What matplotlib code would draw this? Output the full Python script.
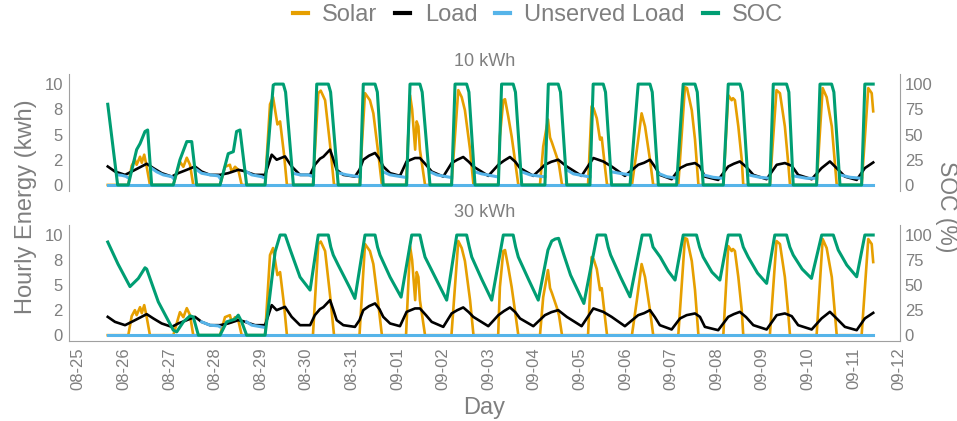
import matplotlib
matplotlib.use('Agg')
import matplotlib.pyplot as plt
from matplotlib.lines import Line2D
import numpy as np

plt.rcParams['font.family'] = ['Liberation Sans', 'DejaVu Sans']

nan = float('nan')

# time axis: hours since 08-25 00:00
day_labels = ['08-25', '08-26', '08-27', '08-28', '08-29', '08-30', '08-31',
              '09-01', '09-02', '09-03', '09-04', '09-05', '09-06', '09-07',
              '09-08', '09-09', '09-10', '09-11', '09-12']
t_start, t_end = 15.5, 418.4

solar_t = [15.5, 26.3, 28.1, 29.8, 30.7, 32.5, 33.4, 34.7, 36.0, 37.7,
           50.0, 53.5, 55.3, 57.1, 58.8, 60.5,
           74.6, 77.2, 79.8, 80.7, 82.5, 84.2, 86.0,
           98.3, 100.9, 102.5, 104.8, 106.2, 108.3, 109.8,
           123.5, 126.3, 127.6, 129.9, 132.5, 134.6,
           148.0, 150.9, 153.5, 155.3, 157.9, 159.8,
           172.5, 174.6, 175.7, 177.3, 178.1, 179.0, 179.8, 182.5,
           196.4, 200.0, 201.8, 203.5, 206.2, 208.0,
           221.0, 221.9, 223.7, 224.6, 226.3, 228.1, 229.8, 231.6,
           243.0, 244.7, 247.2, 248.3, 249.3, 251.8, 253.0, 254.6,
           268.3, 270.2, 271.2, 272.9, 274.6, 275.5, 277.2, 278.3,
           291.4, 294.0, 296.5, 298.3, 300.9, 302.6,
           315.8, 319.3, 320.4, 322.9, 324.6, 326.4,
           339.5, 342.1, 343.9, 344.6, 345.6, 347.4, 349.2, 350.0,
           364.0, 367.5, 369.3, 371.9, 373.7, 374.6,
           388.6, 391.8, 393.9, 396.6, 399.2,
           412.3, 415.8, 417.6, 418.4]
solar_v = [0, 0, 1.9, 2.5, 2.0, 2.8, 2.2, 3.0, 1.8, 0,
           0, 2.3, 1.8, 2.7, 2.0, 0,
           0, 1.8, 2.0, 1.3, 1.8, 1.5, 0,
           0, 8.0, 8.7, 6.0, 6.3, 3.0, 0,
           0, 9.1, 9.35, 8.4, 4.0, 0,
           0, 9.1, 8.4, 7.1, 3.1, 0,
           0, 8.9, 7.5, 3.5, 6.3, 5.8, 3.5, 0,
           0, 9.4, 8.7, 7.4, 3.5, 0,
           0, 4.8, 8.4, 8.5, 6.8, 4.8, 2.5, 0,
           0, 3.8, 6.5, 4.7, 4.2, 2.8, 2.0, 0,
           0, 7.8, 7.6, 6.6, 4.5, 4.7, 1.8, 0,
           0, 3.5, 7.1, 5.8, 2.5, 0,
           0, 9.7, 9.6, 7.4, 4.5, 0,
           0, 8.9, 8.4, 8.6, 8.4, 5.8, 2.5, 0,
           0, 9.4, 9.1, 5.8, 2.1, 0,
           0, 9.6, 8.7, 5.8, 0,
           0, 9.6, 9.1, 7.3]

load_t = [15.5, 19.3, 24.6, 28.1, 31.6, 36.0, 39.5, 43.9, 49.2, 52.6,
          57.1, 61.4, 64.9, 69.3, 74.6, 78.9, 84.2, 86.7, 93.0, 98.3,
          101.8, 104.4, 108.8, 112.3, 116.7, 122.0, 124.5, 127.2, 129.0, 132.5,
          134.3, 136.0, 139.5, 145.6, 148.0, 150.0, 153.0, 156.2, 158.5, 160.5,
          164.1, 169.3, 172.8, 177.2, 179.8, 183.0, 186.0, 192.1, 196.5, 199.5,
          202.6, 205.5, 207.9, 215.8, 221.1, 224.0, 227.2, 230.0, 232.5, 239.5,
          245.6, 249.0, 252.6, 257.1, 264.9, 271.1, 276.3, 280.7, 287.7, 294.7,
          297.8, 300.9, 303.5, 306.1, 312.3, 316.7, 320.2, 324.6, 327.2, 329.8,
          336.8, 342.1, 345.0, 348.2, 351.5, 355.3, 362.3, 367.6, 371.9, 375.5,
          378.9, 386.0, 391.2, 395.6, 399.5, 403.5, 409.7, 414.0, 418.4]
load_v = [1.83, 1.33, 1.0, 1.33, 1.67, 2.1, 1.67, 1.17, 0.83, 1.17,
          1.5, 1.83, 1.33, 1.0, 1.0, 1.17, 1.5, 1.4, 1.0, 1.0,
          3.0, 2.5, 2.83, 1.83, 1.0, 1.0, 2.0, 2.6, 2.8, 3.5,
          2.5, 1.5, 1.0, 0.83, 1.5, 2.5, 2.9, 3.17, 2.6, 1.83,
          1.17, 0.9, 2.33, 2.67, 2.67, 2.0, 1.33, 0.83, 2.17, 2.5,
          2.77, 2.3, 1.83, 0.9, 2.0, 2.4, 2.77, 2.3, 1.67, 0.9,
          2.0, 2.3, 2.5, 1.83, 0.9, 2.67, 2.33, 1.83, 0.9, 2.0,
          2.2, 2.5, 1.8, 1.0, 0.57, 1.67, 2.0, 2.17, 1.83, 0.83,
          0.5, 1.83, 2.1, 2.33, 1.8, 1.0, 0.57, 2.0, 2.17, 1.9,
          1.0, 0.57, 1.67, 2.33, 1.6, 0.83, 0.5, 1.67, 2.23]

# state of charge (%) - 10 kWh battery
soc10_t = [15.5, 20.7, 26.3, 30.7, 32.5, 35.1, 36.5, 38.6,
           50.0, 53.5, 57.1, 59.7, 62.3,
           74.6, 78.9, 81.6, 83.3, 85.1, 88.6,
           98.3, 102.6, 103.5, 107.9, 109.1, 113.2,
           123.7, 125.5, 131.6, 132.8, 136.8,
           148.3, 150.0, 156.2, 157.4, 160.5,
           172.8, 174.6, 179.8, 181.0, 185.1,
           196.5, 198.3, 204.4, 205.6, 208.8,
           221.1, 222.8, 228.9, 230.1, 233.4,
           245.6, 247.4, 252.6, 253.8, 257.1,
           269.3, 271.0, 276.3, 277.5, 280.7,
           290.4, 294.7, 300.9, 302.1, 305.3,
           314.9, 318.4, 324.6, 325.8, 328.9,
           339.5, 342.1, 348.3, 349.5, 352.6,
           364.0, 365.8, 372.8, 374.0, 376.3,
           388.6, 390.4, 396.5, 397.7, 400.9,
           412.3, 414.0, 418.4]
soc10_v = [80, 0, 0, 35, 41, 53, 54.5, 0,
           0, 25, 43, 43, 0,
           0, 31, 33, 53, 54.5, 0,
           0, 99, 100, 100, 92, 0,
           0, 100, 100, 92, 0,
           0, 100, 100, 92, 0,
           0, 100, 100, 92, 0,
           0, 100, 100, 92, 0,
           0, 100, 100, 92, 0,
           0, 100, 100, 92, 0,
           0, 100, 100, 92, 0,
           0, 100, 100, 92, 0,
           0, 100, 100, 92, 0,
           0, 100, 100, 92, 0,
           0, 100, 100, 92, 0,
           0, 100, 100, 92, 0,
           0, 100, 100]

# state of charge (%) - 30 kWh battery
soc30_t = [15.5, 20.9, 27.2, 31.6, 35.1, 36.0, 42.1, 50.0, 51.8,
           55.3, 58.8, 60.5, 63.2, 74.6, 78.1, 82.5, 84.2, 86.0, 88.6,
           98.3, 103.6, 106.2, 108.9, 111.6, 116.7, 122.0,
           126.3, 131.6, 132.9, 134.2, 136.8, 139.5, 143.0, 145.6,
           150.9, 156.2, 157.5, 158.8, 164.1, 169.9,
           175.5, 179.8, 181.2, 182.5, 187.8, 193.9,
           199.2, 204.4, 205.8, 207.1, 212.3, 217.6,
           223.7, 228.9, 230.2, 231.6, 236.9, 242.1,
           247.2, 249.2, 251.0, 252.8, 255.6, 259.1, 266.1,
           273.1, 277.5, 278.9, 280.2, 285.4, 290.4,
           296.8, 301.0, 302.5, 306.3, 310.5, 314.1,
           318.4, 325.4, 327.0, 328.9, 333.5, 337.7,
           342.1, 348.3, 350.0, 352.6, 357.5, 362.3,
           366.6, 372.8, 374.5, 376.3, 381.0, 385.9,
           391.3, 397.4, 400.0, 404.5, 409.7,
           414.0, 418.4]
soc30_v = [93, 71, 48.5, 56.7, 67.3, 66, 33.3, 5, 3.3,
           13.3, 19.3, 18.3, 0, 0, 13.3, 16, 20, 13.3, 0,
           0, 83.3, 100, 100, 85, 58, 45,
           100, 100, 88, 80, 70, 60, 47, 36.7,
           100, 100, 88, 80, 58, 38,
           100, 100, 88, 78, 58, 35,
           100, 100, 88, 78, 56, 35,
           100, 100, 88, 78, 56, 35,
           85, 94, 96, 96.7, 80, 60, 31.7,
           100, 100, 88, 80, 58, 38.3,
           100, 100, 88, 78, 64, 55,
           100, 100, 88, 78, 63, 55,
           100, 100, 88, 78, 62, 51.7,
           100, 100, 88, 80, 66, 56.7,
           100, 100, 85, 70, 58.3,
           100, 100]

# unserved load (kWh) while the battery is empty
unserved10_t = [20.7, 23.0, 25.1, 26.3, nan,
                38.6, 41.3, 44.7, 49.2, 50.0, nan,
                62.3, 64.9, 69.3, 73.7, 74.6, nan,
                88.6, 91.3, 96.5, 98.3, nan,
                113.2, 116.7, 121.1, 123.7, nan,
                136.8, 141.3, 147.4, 148.3, nan,
                160.5, 164.1, 171.9, 172.8, nan,
                185.1, 188.6, 195.6, 196.5, nan,
                208.8, 212.3, 220.2, 221.1, nan,
                233.4, 237.8, 244.8, 245.6, nan,
                257.1, 260.6, 268.5, 269.3, nan,
                280.7, 285.1, 290.4, nan,
                305.3, 309.7, 314.9, nan,
                328.9, 334.1, 339.5, nan,
                352.6, 358.7, 364.0, nan,
                376.3, 383.4, 388.6, nan,
                400.9, 406.2, 412.3]
unserved10_v = [1.0, 0.95, 0.85, 0.7, nan,
                1.65, 1.3, 1.0, 0.82, 0.66, nan,
                1.5, 1.16, 1.0, 0.9, 0.66, nan,
                1.3, 1.0, 0.82, 0.66, nan,
                1.15, 1.0, 1.0, 0.82, nan,
                1.2, 1.0, 0.82, 0.8, nan,
                1.3, 1.0, 0.76, 0.76, nan,
                1.3, 1.0, 0.76, 0.76, nan,
                1.3, 1.1, 0.82, 0.82, nan,
                1.3, 1.0, 0.82, 0.82, nan,
                1.5, 1.1, 0.82, 0.82, nan,
                1.3, 1.15, 1.0, nan,
                1.15, 0.82, 0.66, nan,
                1.0, 0.76, 0.66, nan,
                1.0, 0.76, 0.66, nan,
                0.9, 0.66, 0.66, nan,
                1.0, 0.76, 0.66]

unserved30_t = [64.9, 69.3, 73.7, 74.6, nan, 88.6, 91.3, 96.5, 98.3]
unserved30_v = [1.33, 1.0, 0.93, 0.83, nan, 1.33, 1.0, 0.83, 0.77]

C_SOLAR = '#E69F00'
C_LOAD = '#000000'
C_UNSERVED = '#56B4E9'
C_SOC = '#009E73'
GREY = '#7f7f7f'
AXIS_GREY = '#a0a0a0'

fig = plt.figure(figsize=(9.57, 4.21), dpi=100)
ax_top = fig.add_axes([69 / 957, 1 - 190.5 / 421, 831 / 957, 116.5 / 421])
ax_bot = fig.add_axes([69 / 957, 1 - 340.7 / 421, 831 / 957, 115.7 / 421])


def draw_panel(ax, soc_t, soc_v, uns_t, uns_v, title, show_x):
    ax.plot(solar_t, solar_v, color=C_SOLAR, lw=1.9, solid_joinstyle='round')
    ax.plot(load_t, load_v, color=C_LOAD, lw=1.9, solid_joinstyle='round')
    ax.plot([t_start, t_end], [0, 0], color=C_UNSERVED, lw=2.2)
    ax.plot(uns_t, uns_v, color=C_UNSERVED, lw=2.2, solid_joinstyle='round')

    ax.set_xlim(-4.9, 432.5)
    ax.set_ylim(-0.55, 11.0)
    ax.set_yticks([0, 2.5, 5, 7.5, 10])
    ax.set_yticklabels(['0', '2', '5', '8', '10'])
    ax.set_xticks(np.arange(len(day_labels)) * 24)
    ax.set_xticklabels(day_labels, rotation=90)
    ax.tick_params(length=0, labelsize=12, labelcolor=GREY, pad=4.5)
    ax.tick_params(axis='x', labelbottom=show_x, pad=5)

    for side in ['top', 'right']:
        ax.spines[side].set_visible(False)
    ax.spines['left'].set_color(AXIS_GREY)
    ax.spines['bottom'].set_color(AXIS_GREY)
    ax.spines['bottom'].set_visible(show_x)
    ax.patch.set_visible(False)

    ax2 = ax.twinx()
    ax2.plot(soc_t, soc_v, color=C_SOC, lw=2.2, solid_joinstyle='round')
    ax2.set_ylim(-5.5, 110)
    ax2.set_yticks([0, 25, 50, 75, 100])
    ax2.tick_params(length=0, labelsize=12, labelcolor=GREY, pad=3.5)
    for side in ['top', 'left', 'bottom']:
        ax2.spines[side].set_visible(False)
    ax2.spines['right'].set_color(AXIS_GREY)

    ax.set_title(title, fontsize=13, color=GREY, pad=6)


draw_panel(ax_top, soc10_t, soc10_v, unserved10_t, unserved10_v, '10 kWh', False)
draw_panel(ax_bot, soc30_t, soc30_v, unserved30_t, unserved30_v, '30 kWh', True)

fig.text(26.5 / 957, 1 - 207 / 421, 'Hourly Energy (kwh)', rotation=90,
         ha='center', va='center', fontsize=17, color=GREY)
fig.text(946.5 / 957, 1 - 207 / 421, 'SOC (%)', rotation=270,
         ha='center', va='center', fontsize=16.5, color=GREY)
fig.text(484.5 / 957, 1 - 408 / 421, 'Day', ha='center', va='center',
         fontsize=17, color=GREY)

handles = [Line2D([], [], color=c, lw=3) for c in [C_SOLAR, C_LOAD, C_UNSERVED, C_SOC]]
fig.legend(handles, ['Solar', 'Load', 'Unserved Load', 'SOC'], loc='center',
           bbox_to_anchor=(538 / 957, 1 - 15 / 421), ncol=4, frameon=False,
           fontsize=17, labelcolor=GREY, handlelength=0.65, handletextpad=0.6,
           columnspacing=0.75)

fig.savefig('out.png', dpi=100)
